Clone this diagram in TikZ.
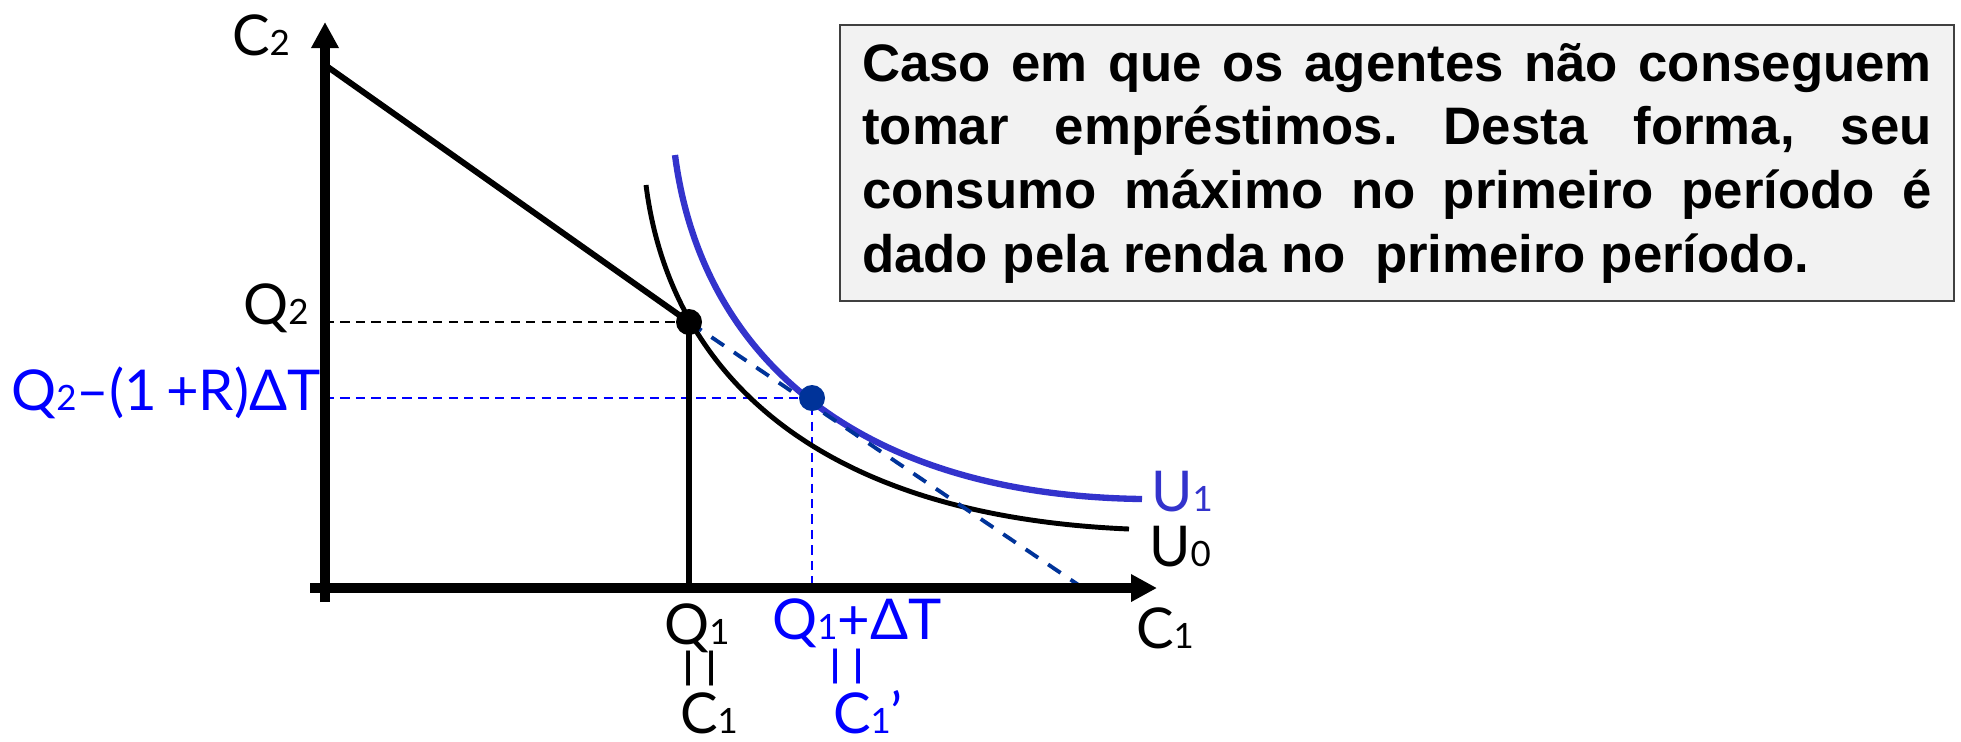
\documentclass[tikz,border=0pt]{standalone}
\usepackage{fontspec}
\usepackage{graphicx}
\setmainfont{Lato}
\newfontfamily\notefont{Liberation Sans}
\usetikzlibrary{arrows.meta,positioning}
\definecolor{ublue}{RGB}{51,51,204}
\definecolor{lblue}{RGB}{0,0,255}
\definecolor{dblue}{RGB}{0,51,153}
\definecolor{boxgray}{RGB}{242,242,242}
\newcommand{\ix}[1]{\scalebox{0.62}{#1}}
\newcommand{\eqbar}{\scalebox{1}[0.66]{|\kern2.3pt|}}
\tolerance=9999
\frenchspacing

\begin{document}
\begin{tikzpicture}[x=0.01cm,y=-0.01cm,
  ax/.style={line width=2.6pt, -{Triangle[length=2.6mm,width=2.6mm]}},
  bud/.style={line width=1.7pt},
  uzero/.style={line width=1.4pt},
  uone/.style={line width=1.8pt, ublue},
  guide/.style={line width=0.6pt, dash pattern=on 2.6pt off 1.8pt},
  newbud/.style={line width=1.1pt, dblue, dash pattern=on 4.3pt off 3.4pt},
  eqpt/.style={circle, fill, inner sep=0pt, minimum size=2.6mm},
  lab/.style={font=\fontsize{16}{18}\selectfont, inner sep=0pt},
  blab/.style={lab, lblue},
  note/.style={draw=black!75, line width=0.6pt, fill=boxgray,
               text width=10.69cm, align=justify, inner xsep=2.2mm,
               minimum height=2.76cm,
               font=\notefont\bfseries\fontsize{15}{18.1}\selectfont}]
\useasboundingbox (0,0) rectangle (1961,741);
% ---- key points ----
\coordinate (O)    at (325,588);
\coordinate (ytop) at (325,65);
\coordinate (a)    at (689,322);
\coordinate (b)    at (812,398);
\coordinate (c)    at (1083,588);
\coordinate (u0a)  at (646,185);
\coordinate (u0b)  at (1129,529);
\coordinate (u1a)  at (675,155);
\coordinate (u1b)  at (1142,499);
% ---- guides ----
\draw[guide] (a -| O) -- (a);
\draw[guide, lblue] (b -| O) -- (b) -- (b |- O);
% ---- indifference curves ----
\draw[uzero] (u0a) .. controls (668,360) and (800,515) .. (u0b);
\draw[uone] (u1a) .. controls (700,350) and (850,495) .. (u1b);
% ---- budget lines ----
\draw[bud] (ytop) -- (a);
\draw[bud] (a) -- (a |- O);
\draw[newbud] (a) -- (c);
% ---- axes ----
\draw[ax] (325,602) -- (325,22);
\draw[ax] (310,588) -- (1157,588);
% ---- points ----
\node[eqpt] (A) at (a) {};
\node[eqpt, dblue] (B) at (b) {};
% ---- labels ----
\node[lab] (c2) at (261,35) {C\ix{2}};
\node[lab] (c1) at (1165,628) {C\ix{1}};
\node[lab] (q2) at (276,308) {Q\ix{2}};
\node[blab] (q2b) at (166,393) {Q\ix{2}–(1\,+R)ΔT};
\node[lab] (q1) at (697,628) {Q\ix{1}};
\node[lab] (eqa) at (700,668) {\eqbar};
\node[lab] (c1a) at (709,713) {C\ix{1}};
\node[blab] (q1b) at (857,623) {Q\ix{1}+ΔT};
\node[blab] (eqb) at (847,666) {\eqbar};
\node[blab] (c1b) at (868,712) {C\ix{1}’};
\node[lab, ublue] (u1) at (1182,492) {U\ix{1}};
\node[lab] (u0) at (1180,547) {U\ix{0}};
% ---- note ----
\node[note] (txt) at (1397,163) {Caso em que os agentes não conseguem\linebreak
  tomar empréstimos. Desta forma, seu\linebreak
  consumo máximo no primeiro período é\linebreak
  dado pela renda no\ \ primeiro período.};
\end{tikzpicture}
\end{document}
